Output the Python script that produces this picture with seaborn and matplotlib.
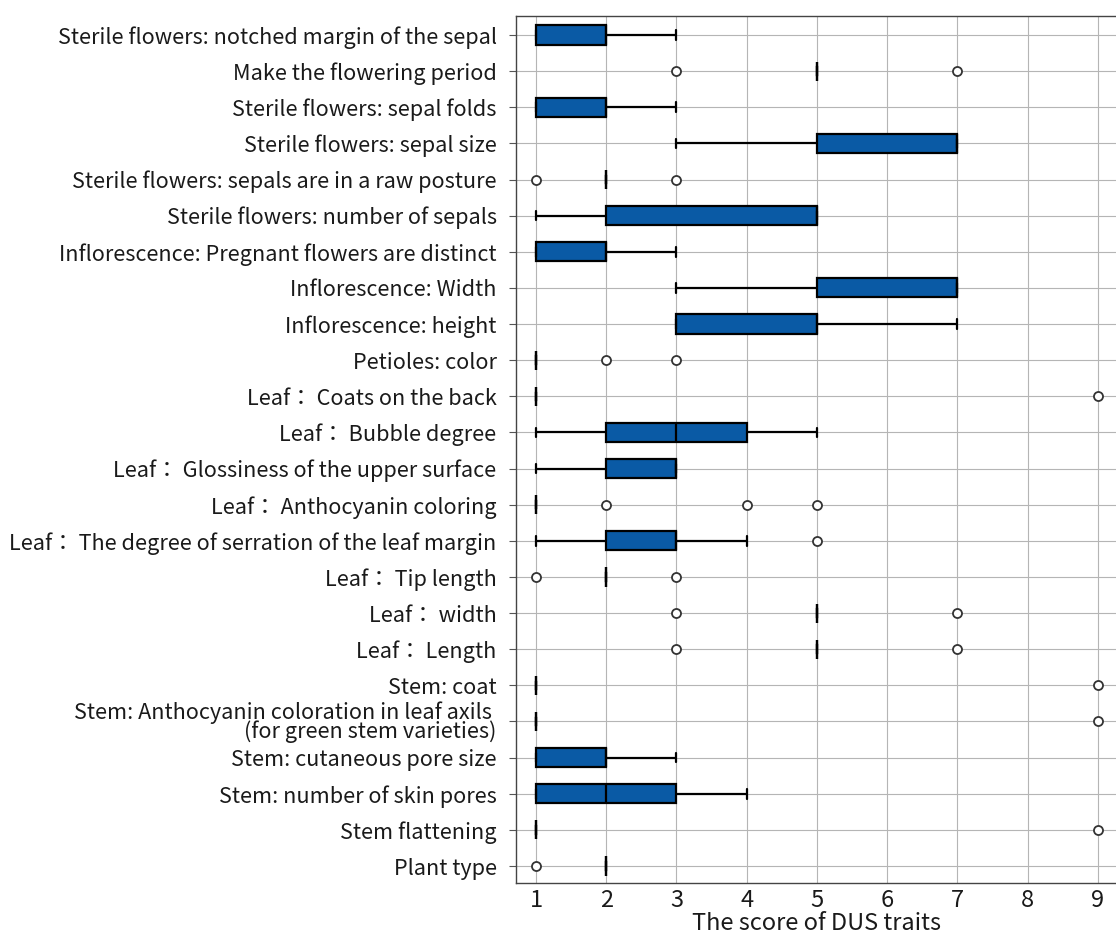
import numpy as np
import pandas as pd
import matplotlib
matplotlib.use("Agg")
import matplotlib.pyplot as plt
import seaborn as sns

# DUS traits, listed top to bottom
traits = [
    "Sterile flowers: notched margin of the sepal",
    "Make the flowering period",
    "Sterile flowers: sepal folds",
    "Sterile flowers: sepal size",
    "Sterile flowers: sepals are in a raw posture",
    "Sterile flowers: number of sepals",
    "Inflorescence: Pregnant flowers are distinct",
    "Inflorescence: Width",
    "Inflorescence: height",
    "Petioles: color",
    "Leaf： Coats on the back",
    "Leaf： Bubble degree",
    "Leaf： Glossiness of the upper surface",
    "Leaf： Anthocyanin coloring",
    "Leaf： The degree of serration of the leaf margin",
    "Leaf： Tip length",
    "Leaf： width",
    "Leaf： Length",
    "Stem: coat",
    "Stem: Anthocyanin coloration in leaf axils \n(for green stem varieties)",
    "Stem: cutaneous pore size",
    "Stem: number of skin pores",
    "Stem flattening",
    "Plant type",
]

# Observed scores for each trait
notched_margin = [1, 1, 1, 1, 2, 2, 2, 2, 3]
flowering_period = [3, 5, 5, 5, 5, 5, 5, 5, 5, 5, 7]
sepal_folds = [1, 1, 1, 1, 2, 2, 2, 2, 3]
sepal_size = [3, 5, 5, 5, 7, 7, 7, 7, 7]
sepal_posture = [1, 2, 2, 2, 2, 2, 2, 2, 2, 2, 3]
sepal_number = [1, 2, 2, 2, 5, 5, 5, 5, 5]
pregnant_flowers = [1, 1, 1, 1, 2, 2, 2, 2, 3]
infl_width = [3, 5, 5, 5, 7, 7, 7, 7, 7]
infl_height = [3, 3, 3, 3, 5, 5, 5, 5, 7]
petiole_color = [1, 1, 1, 1, 1, 1, 1, 1, 1, 2, 3]
leaf_coats = [1, 1, 1, 1, 1, 1, 1, 1, 1, 1, 9]
leaf_bubble = [1, 2, 2, 3, 3, 3, 4, 4, 5]
leaf_gloss = [1, 2, 2, 2, 3, 3, 3, 3, 3]
leaf_anthocyanin = [1, 1, 1, 1, 1, 1, 1, 1, 1, 1, 1, 1, 2, 4, 5]
leaf_serration = [1, 2, 2, 2, 3, 3, 3, 4, 5]
leaf_tip = [1, 2, 2, 2, 2, 2, 2, 2, 2, 2, 3]
leaf_width = [3, 5, 5, 5, 5, 5, 5, 5, 5, 5, 7]
leaf_length = [3, 5, 5, 5, 5, 5, 5, 5, 5, 5, 7]
stem_coat = [1, 1, 1, 1, 1, 1, 1, 1, 1, 1, 9]
stem_axil_color = [1, 1, 1, 1, 1, 1, 1, 1, 1, 1, 9]
pore_size = [1, 1, 1, 1, 2, 2, 2, 2, 3]
pore_number = [1, 1, 1, 2, 2, 3, 3, 3, 4]
stem_flattening = [1, 1, 1, 1, 1, 1, 1, 1, 1, 1, 9]
plant_type = [1, 2, 2, 2, 2, 2, 2, 2, 2, 2, 2]

scores = [
    notched_margin, flowering_period, sepal_folds, sepal_size, sepal_posture,
    sepal_number, pregnant_flowers, infl_width, infl_height, petiole_color,
    leaf_coats, leaf_bubble, leaf_gloss, leaf_anthocyanin, leaf_serration,
    leaf_tip, leaf_width, leaf_length, stem_coat, stem_axil_color,
    pore_size, pore_number, stem_flattening, plant_type,
]

x_ticks = [1, 2, 3, 4, 5, 6, 7, 8, 9]

df = pd.DataFrame({
    "trait": np.repeat(traits, [len(s) for s in scores]),
    "score": np.concatenate(scores),
})

sns.set_style("whitegrid")
plt.rcParams["font.family"] = ["Noto Sans CJK JP", "DejaVu Sans"]

W, H = 1116, 941
fig = plt.figure(figsize=(W / 100, H / 100), dpi=100)
ax = fig.add_axes([516 / W, 1 - 883 / H, 1 - 516 / W, (883 - 16) / H])

sns.boxplot(
    data=df, x="score", y="trait", order=traits, orient="h",
    color="#0a5aa5", saturation=1, width=0.53,
    linecolor="black", linewidth=1.6, fliersize=6.5,
    flierprops=dict(marker="o", markerfacecolor="white",
                    markeredgecolor="#333333", markeredgewidth=1.3),
    ax=ax,
)

ax.set_xlim(0.715, 9.26)
ax.set_ylim(23.47, -0.526)
ax.set_xticks(x_ticks)
ax.set_xlabel("The score of DUS traits", fontsize=17, labelpad=0)
ax.set_ylabel("")
ax.tick_params(axis="x", labelsize=17, length=0, pad=4, colors="#1a1a1a")
ax.tick_params(axis="y", labelsize=15.6, length=5, width=0.8, color="#555555",
               labelcolor="#1a1a1a", left=True, pad=9)
for lab in ax.get_yticklabels():
    lab.set_linespacing(0.8)
ax.xaxis.label.set_color("#1a1a1a")

ax.grid(True, color="#b5b5b5", linewidth=0.8)
ax.set_axisbelow(True)
for side in ["left", "top", "bottom"]:
    ax.spines[side].set_color("#444444")
    ax.spines[side].set_linewidth(1.0)
ax.spines["right"].set_visible(False)

fig.savefig("out.png", dpi=100)
